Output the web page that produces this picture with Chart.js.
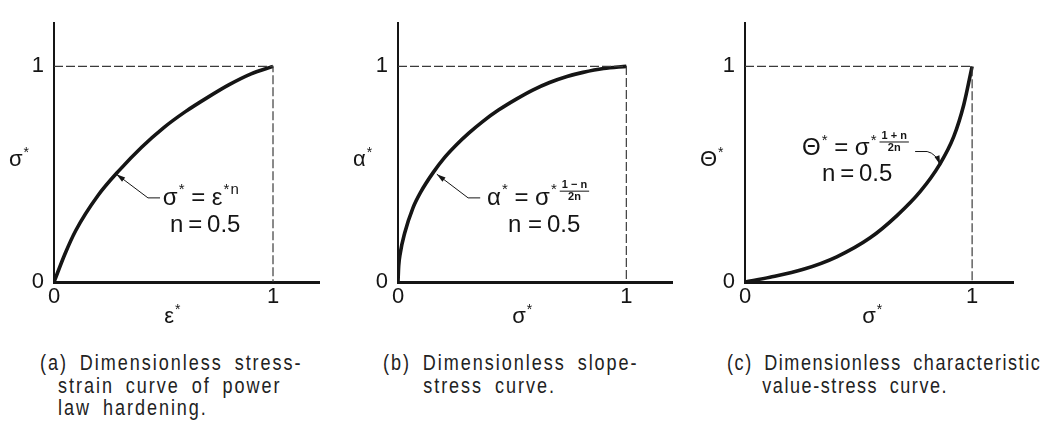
<!DOCTYPE html>
<html lang="en">
<head>
<meta charset="UTF-8">
<title>Dimensionless curves of power law hardening</title>
<script src="https://cdn.jsdelivr.net/npm/chart.js"></script>
<style>
  body { margin: 0; background: #fff; width: 1046px; height: 423px; position: relative; overflow: hidden; }
  canvas { position: absolute; top: 0; }
  .caption {
    position: absolute;
    font-family: "Liberation Sans", Arial, sans-serif;
    font-size: 22px;
    line-height: 22.5px;
    letter-spacing: 2.4px;
    word-spacing: 6px;
    color: #222;
    white-space: nowrap;
    transform: scaleX(0.82);
    transform-origin: 0 0;
  }
</style>
</head>
<body>

<canvas id="chart-a" width="345" height="340" style="left:0px"></canvas>
<canvas id="chart-b" width="345" height="340" style="left:345px"></canvas>
<canvas id="chart-c" width="356" height="340" style="left:690px"></canvas>

<div class="caption" style="left:40px; top:352px; padding-left:22px; text-indent:-22px">(a) Dimensionless stress-<br>strain curve of power<br>law hardening.</div>
<div class="caption" style="left:383px; top:352px; padding-left:49px; text-indent:-49px">(b) Dimensionless slope-<br>stress curve.</div>
<div class="caption" style="left:727px; top:352px; padding-left:43px; text-indent:-43px; letter-spacing:1.9px">(c) Dimensionless characteristic<br>value-stress curve.</div>

<script>
// ---- data ----
const tickValues = [0, 1];

// (a) stress vs strain
const strainA = [0, 0.05, 0.1, 0.2, 0.3, 0.4, 0.5, 0.6, 0.7, 0.8, 0.9, 1];
const stressA = [0, 0.13, 0.24, 0.40, 0.52, 0.625, 0.715, 0.79, 0.855, 0.915, 0.965, 1];

// (b) slope vs stress
const stressB = [0, 0.003, 0.010, 0.029, 0.066, 0.10, 0.153, 0.20, 0.255, 0.31, 0.372, 0.44, 0.518, 0.59, 0.664, 0.74, 0.81, 0.9, 1];
const slopeB  = [0, 0.073, 0.134, 0.226, 0.345, 0.418, 0.506, 0.572, 0.635, 0.69, 0.745, 0.797, 0.848, 0.89, 0.925, 0.953, 0.972, 0.99, 1];

// (c) characteristic value vs stress
const stressC = [0, 0.110, 0.257, 0.404, 0.551, 0.669, 0.772, 0.856, 0.919, 0.963, 1];
const charC   = [0, 0.022, 0.059, 0.117, 0.205, 0.308, 0.42, 0.543, 0.674, 0.821, 1];

// dashed guide from (0,1) to (1,1) down to (1,0)
const guideX = [0, 1, 1];
const guideY = [1, 1, 0];

const INK = '#151515';
const SANS = '"Liberation Sans", Arial, sans-serif';

function toPoints(xs, ys) {
  return xs.map((x, i) => ({ x: x, y: ys[i] }));
}

// draws a run of text pieces: plain strings, {sup:'*'} and {frac:['1 − n','2n']}
function drawRich(ctx, parts, x, y, size, measureOnly) {
  let cx = x;
  for (const p of parts) {
    if (typeof p === 'string') {
      ctx.font = `${size}px ${SANS}`;
      if (!measureOnly) ctx.fillText(p, cx, y);
      cx += ctx.measureText(p).width;
    } else if (p.sup) {
      ctx.font = `${Math.round(size * 0.62)}px ${SANS}`;
      if (!measureOnly) ctx.fillText(p.sup, cx + 1, y - size * 0.32);
      cx += ctx.measureText(p.sup).width + 1;
    } else if (p.frac) {
      ctx.font = `bold ${Math.round(size * 0.46)}px ${SANS}`;
      const w = Math.max(ctx.measureText(p.frac[0]).width, ctx.measureText(p.frac[1]).width) + 4;
      const bar = y - size * 0.28;
      if (!measureOnly) {
        ctx.textAlign = 'center';
        ctx.fillText(p.frac[0], cx + 3 + w / 2, bar - size * 0.24);
        ctx.fillText(p.frac[1], cx + 3 + w / 2, bar + size * 0.25);
        ctx.textAlign = 'left';
        ctx.lineWidth = 1;
        ctx.beginPath();
        ctx.moveTo(cx + 3, bar);
        ctx.lineTo(cx + 3 + w, bar);
        ctx.stroke();
      }
      cx += w + 3;
    }
  }
  return cx - x;
}

// axis names, formula, n value and the leader arrow
const figureText = {
  id: 'figureText',
  afterDraw(chart, args, opts) {
    const { ctx, scales: { x, y } } = chart;
    ctx.save();
    ctx.fillStyle = INK;
    ctx.strokeStyle = INK;
    ctx.textAlign = 'left';
    ctx.textBaseline = 'middle';

    // vertical axis name, written upright left of the axis
    drawRich(ctx, opts.yLabel, x.getPixelForValue(0) - 45, y.getPixelForValue(opts.yLabelAt), 22);

    // horizontal axis name below the tick labels
    const w = drawRich(ctx, opts.xLabel, 0, 0, 22, true);
    drawRich(ctx, opts.xLabel, x.getPixelForValue(opts.xLabelAt) - w / 2, y.getPixelForValue(0) + 35, 22);

    // formula and exponent
    drawRich(ctx, opts.formula, x.getPixelForValue(opts.formulaAt[0]), y.getPixelForValue(opts.formulaAt[1]), 24);
    drawRich(ctx, [opts.nText], x.getPixelForValue(opts.nAt[0]), y.getPixelForValue(opts.nAt[1]), 24);

    // leader line ending in an arrow on the curve
    const pts = opts.leader.map(p => [x.getPixelForValue(p[0]), y.getPixelForValue(p[1])]);
    ctx.lineWidth = 1;
    ctx.beginPath();
    ctx.moveTo(pts[0][0], pts[0][1]);
    if (opts.curvedLeader) {
      ctx.lineTo(pts[1][0], pts[1][1]);
      ctx.quadraticCurveTo(pts[2][0], pts[2][1], pts[3][0], pts[3][1]);
    } else {
      for (let i = 1; i < pts.length; i++) ctx.lineTo(pts[i][0], pts[i][1]);
    }
    ctx.stroke();
    const tip = pts[pts.length - 1];
    const from = pts[pts.length - 2];
    const ang = Math.atan2(tip[1] - from[1], tip[0] - from[0]);
    ctx.beginPath();
    ctx.moveTo(tip[0], tip[1]);
    ctx.lineTo(tip[0] - 9 * Math.cos(ang) + 2.6 * Math.sin(ang), tip[1] - 9 * Math.sin(ang) - 2.6 * Math.cos(ang));
    ctx.lineTo(tip[0] - 9 * Math.cos(ang) - 2.6 * Math.sin(ang), tip[1] - 9 * Math.sin(ang) + 2.6 * Math.cos(ang));
    ctx.closePath();
    ctx.fill();

    ctx.restore();
  }
};

function drawPanel(canvasId, xs, ys, frame, text) {
  const canvas = document.getElementById(canvasId);
  const W = canvas.width, H = canvas.height;

  const data = {
    datasets: [
      {
        data: toPoints(guideX, guideY),
        showLine: true,
        borderColor: '#3a3a3a',
        borderWidth: 1.2,
        borderDash: [9, 3],
        pointRadius: 0,
        tension: 0
      },
      {
        data: toPoints(xs, ys),
        showLine: true,
        borderColor: INK,
        borderWidth: 3.6,
        pointRadius: 0,
        cubicInterpolationMode: 'monotone'
      }
    ]
  };

  const tickFont = { family: SANS, size: 22 };

  const config = {
    type: 'scatter',
    data: data,
    options: {
      responsive: false,
      animation: false,
      events: [],
      layout: { padding: { left: 0, top: frame.top, right: W - frame.right, bottom: 0 } },
      scales: {
        x: {
          type: 'linear',
          min: 0,
          max: frame.xMax,
          grid: { display: false, drawTicks: false },
          border: { display: true, color: INK, width: 3 },
          ticks: { color: INK, font: tickFont, padding: 2, autoSkip: false, maxRotation: 0 },
          afterBuildTicks: s => { s.ticks = tickValues.map(v => ({ value: v })); },
          afterFit: s => { s.height = H - frame.originY; }
        },
        y: {
          type: 'linear',
          min: 0,
          max: frame.yMax,
          grid: { display: false, drawTicks: false },
          border: { display: true, color: INK, width: 2 },
          ticks: { color: INK, font: tickFont, padding: 10 },
          afterBuildTicks: s => { s.ticks = tickValues.map(v => ({ value: v })); },
          afterFit: s => { s.width = frame.originX; }
        }
      },
      plugins: {
        legend: { display: false },
        tooltip: { enabled: false },
        figureText: text
      }
    },
    plugins: [figureText]
  };

  return new Chart(canvas, config);
}

drawPanel('chart-a', strainA, stressA,
  { originX: 54, originY: 282, top: 8.4, right: 319, xMax: 1.21, yMax: 1.2 },
  {
    yLabel: ['σ', { sup: '*' }], yLabelAt: 0.566,
    xLabel: ['ε', { sup: '*' }], xLabelAt: 0.54,
    formula: ['σ', { sup: '*' }, ' = ', 'ε', { sup: '*' }, { sup: 'n' }], formulaAt: [0.497, 0.39],
    nText: 'n\u2009=\u20090.5', nAt: [0.53, 0.263],
    leader: [[0.484, 0.39], [0.429, 0.39], [0.285, 0.50]]
  });

drawPanel('chart-b', stressB, slopeB,
  { originX: 53, originY: 282, top: 8.4, right: 327, xMax: 1.2, yMax: 1.2 },
  {
    yLabel: ['α', { sup: '*' }], yLabelAt: 0.566,
    xLabel: ['σ', { sup: '*' }], xLabelAt: 0.544,
    formula: ['α', { sup: '*' }, ' = ', 'σ', { sup: '*' }, { frac: ['1 − n', '2n'] }], formulaAt: [0.39, 0.39],
    nText: 'n =\u20090.5', nAt: [0.482, 0.263],
    leader: [[0.36, 0.39], [0.307, 0.39], [0.17, 0.50]]
  });

drawPanel('chart-c', stressC, charC,
  { originX: 55, originY: 282, top: 8.4, right: 323, xMax: 1.18, yMax: 1.2 },
  {
    yLabel: ['Θ', { sup: '*' }], yLabelAt: 0.566,
    xLabel: ['σ', { sup: '*' }], xLabelAt: 0.56,
    formula: ['Θ', { sup: '*' }, ' = ', 'σ', { sup: '*' }, { frac: ['1 + n', '2n'] }], formulaAt: [0.251, 0.618],
    nText: 'n\u2009=\u20090.5', nAt: [0.339, 0.50],
    curvedLeader: true,
    leader: [[0.749, 0.605], [0.802, 0.605], [0.841, 0.596], [0.859, 0.544]]
  });
</script>
</body>
</html>
